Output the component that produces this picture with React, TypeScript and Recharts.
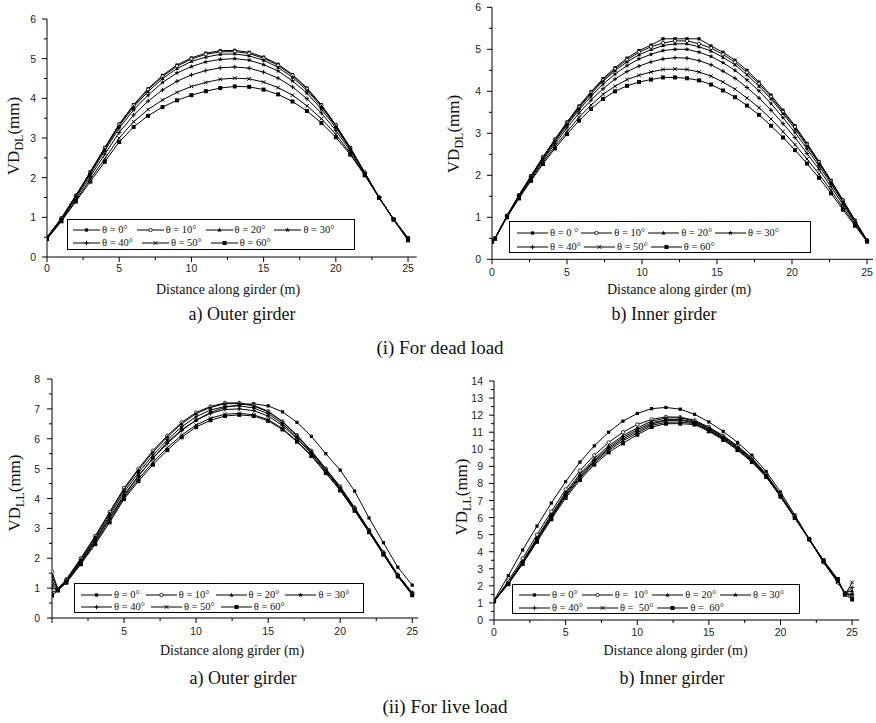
import React from 'react';
import { LineChart, Line, XAxis, YAxis, Legend } from 'recharts';

const serif = '"Liberation Serif", "Times New Roman", serif';
const sans = '"Liberation Sans", Arial, sans-serif';

// ---------- (i) dead load, a) outer girder ----------
const deadOuterX = [0, 1, 2, 3, 4, 5, 6, 7, 8, 9, 10, 11, 12, 13, 14, 15, 16, 17, 18, 19, 20, 21, 22, 23, 24, 25];
const deadOuter0 = [0.5, 0.98, 1.55, 2.15, 2.76, 3.35, 3.84, 4.24, 4.58, 4.84, 5.02, 5.14, 5.2, 5.21, 5.16, 5.04, 4.86, 4.6, 4.26, 3.84, 3.33, 2.76, 2.13, 1.5, 0.95, 0.48];
const deadOuter10 = [0.5, 0.98, 1.55, 2.14, 2.75, 3.34, 3.82, 4.22, 4.55, 4.81, 4.99, 5.11, 5.17, 5.18, 5.13, 5.01, 4.83, 4.58, 4.24, 3.82, 3.32, 2.75, 2.13, 1.5, 0.95, 0.48];
const deadOuter20 = [0.5, 0.97, 1.54, 2.13, 2.72, 3.31, 3.78, 4.17, 4.5, 4.75, 4.93, 5.04, 5.11, 5.12, 5.07, 4.96, 4.78, 4.53, 4.2, 3.79, 3.3, 2.74, 2.12, 1.5, 0.95, 0.47];
const deadOuter30 = [0.49, 0.96, 1.52, 2.09, 2.68, 3.25, 3.71, 4.08, 4.4, 4.64, 4.8, 4.92, 4.98, 5.0, 4.96, 4.85, 4.69, 4.44, 4.13, 3.73, 3.26, 2.72, 2.11, 1.5, 0.95, 0.47];
const deadOuter40 = [0.48, 0.94, 1.48, 2.03, 2.59, 3.14, 3.58, 3.93, 4.21, 4.43, 4.59, 4.7, 4.77, 4.79, 4.76, 4.66, 4.51, 4.29, 3.99, 3.63, 3.19, 2.68, 2.1, 1.5, 0.95, 0.45];
const deadOuter50 = [0.46, 0.92, 1.43, 1.96, 2.48, 3.0, 3.41, 3.72, 3.96, 4.15, 4.3, 4.4, 4.48, 4.51, 4.49, 4.41, 4.27, 4.08, 3.81, 3.49, 3.09, 2.62, 2.08, 1.49, 0.94, 0.43];
const deadOuter60 = [0.45, 0.9, 1.4, 1.9, 2.4, 2.9, 3.28, 3.56, 3.78, 3.95, 4.08, 4.18, 4.26, 4.3, 4.29, 4.22, 4.1, 3.92, 3.68, 3.38, 3.02, 2.58, 2.06, 1.49, 0.94, 0.42];

// ---------- (i) dead load, b) inner girder ----------
const deadInnerX = [0, 0.2, 1, 1.8, 2.6, 3.4, 4.2, 5, 5.8, 6.6, 7.4, 8.2, 9, 9.8, 10.6, 11.4, 12.2, 13, 13.8, 14.6, 15.4, 16.2, 17, 17.8, 18.6, 19.4, 20.2, 21, 21.8, 22.6, 23.4, 24.2, 25];
const deadInner0 = [0.43, 0.5, 1.04, 1.53, 1.99, 2.44, 2.86, 3.27, 3.65, 3.99, 4.3, 4.56, 4.79, 4.97, 5.1, 5.25, 5.25, 5.25, 5.25, 5.08, 4.93, 4.74, 4.5, 4.22, 3.91, 3.55, 3.18, 2.76, 2.33, 1.88, 1.41, 0.93, 0.45];
const deadInner10 = [0.43, 0.5, 1.04, 1.53, 1.98, 2.43, 2.85, 3.25, 3.63, 3.97, 4.27, 4.53, 4.75, 4.93, 5.06, 5.15, 5.2, 5.2, 5.13, 5.03, 4.88, 4.69, 4.45, 4.18, 3.87, 3.51, 3.15, 2.73, 2.31, 1.86, 1.4, 0.92, 0.45];
const deadInner20 = [0.43, 0.5, 1.03, 1.52, 1.97, 2.42, 2.83, 3.23, 3.6, 3.94, 4.24, 4.49, 4.7, 4.87, 4.99, 5.09, 5.13, 5.13, 5.06, 4.96, 4.81, 4.63, 4.39, 4.12, 3.82, 3.47, 3.1, 2.7, 2.28, 1.84, 1.38, 0.91, 0.45];
const deadInner30 = [0.43, 0.5, 1.03, 1.51, 1.96, 2.39, 2.8, 3.19, 3.56, 3.88, 4.17, 4.41, 4.61, 4.77, 4.88, 4.97, 5.0, 5.0, 4.93, 4.83, 4.68, 4.5, 4.27, 4.01, 3.71, 3.37, 3.02, 2.63, 2.22, 1.8, 1.35, 0.89, 0.44];
const deadInner40 = [0.43, 0.5, 1.02, 1.49, 1.93, 2.36, 2.75, 3.13, 3.48, 3.79, 4.06, 4.29, 4.47, 4.6, 4.7, 4.77, 4.8, 4.79, 4.73, 4.63, 4.48, 4.31, 4.09, 3.84, 3.55, 3.23, 2.9, 2.52, 2.14, 1.73, 1.3, 0.87, 0.44];
const deadInner50 = [0.42, 0.49, 1.01, 1.47, 1.9, 2.31, 2.69, 3.04, 3.38, 3.67, 3.93, 4.12, 4.28, 4.38, 4.46, 4.52, 4.53, 4.52, 4.46, 4.36, 4.22, 4.05, 3.84, 3.61, 3.34, 3.04, 2.73, 2.39, 2.03, 1.64, 1.23, 0.83, 0.43];
const deadInner60 = [0.42, 0.49, 1.0, 1.45, 1.87, 2.27, 2.64, 2.98, 3.3, 3.58, 3.82, 4.0, 4.13, 4.22, 4.28, 4.33, 4.33, 4.31, 4.26, 4.16, 4.02, 3.86, 3.66, 3.44, 3.18, 2.9, 2.6, 2.28, 1.94, 1.57, 1.18, 0.8, 0.42];

// ---------- (ii) live load, a) outer girder ----------
const liveOuterX = [0, 0.4, 1, 2, 3, 4, 5, 6, 7, 8, 9, 10, 11, 12, 13, 14, 15, 16, 17, 18, 19, 20, 21, 22, 23, 24, 25];
const liveOuter0 = [1.1, 0.95, 1.22, 1.88, 2.6, 3.35, 4.08, 4.75, 5.35, 5.88, 6.3, 6.62, 6.88, 7.05, 7.14, 7.17, 7.1, 6.9, 6.55, 6.08, 5.5, 4.95, 4.25, 3.35, 2.52, 1.7, 1.1];
const liveOuter10 = [1.55, 0.98, 1.3, 2.0, 2.75, 3.55, 4.35, 5.0, 5.6, 6.1, 6.55, 6.88, 7.08, 7.2, 7.2, 7.12, 6.92, 6.58, 6.12, 5.6, 5.0, 4.4, 3.7, 2.95, 2.2, 1.45, 0.85];
const liveOuter20 = [1.4, 0.96, 1.28, 1.97, 2.71, 3.5, 4.3, 4.95, 5.55, 6.06, 6.5, 6.84, 7.05, 7.17, 7.18, 7.1, 6.9, 6.56, 6.1, 5.58, 4.98, 4.38, 3.68, 2.93, 2.18, 1.44, 0.84];
const liveOuter30 = [1.25, 0.95, 1.25, 1.93, 2.65, 3.43, 4.22, 4.86, 5.45, 5.96, 6.4, 6.74, 6.96, 7.08, 7.1, 7.03, 6.84, 6.5, 6.05, 5.54, 4.95, 4.35, 3.66, 2.92, 2.17, 1.43, 0.82];
const liveOuter40 = [1.0, 0.94, 1.22, 1.88, 2.58, 3.35, 4.13, 4.76, 5.34, 5.84, 6.28, 6.62, 6.85, 6.98, 7.0, 6.94, 6.76, 6.44, 6.0, 5.5, 4.92, 4.32, 3.63, 2.9, 2.15, 1.41, 0.8];
const liveOuter50 = [0.85, 0.93, 1.2, 1.84, 2.52, 3.27, 4.03, 4.65, 5.21, 5.7, 6.12, 6.46, 6.69, 6.82, 6.85, 6.8, 6.64, 6.34, 5.92, 5.44, 4.87, 4.28, 3.6, 2.88, 2.13, 1.4, 0.78];
const liveOuter60 = [0.75, 0.92, 1.18, 1.8, 2.47, 3.2, 3.98, 4.58, 5.13, 5.62, 6.05, 6.39, 6.62, 6.76, 6.8, 6.76, 6.6, 6.31, 5.9, 5.42, 4.85, 4.27, 3.59, 2.87, 2.12, 1.39, 0.76];

// ---------- (ii) live load, b) inner girder ----------
const liveInnerX = [0, 1, 2, 3, 4, 5, 6, 7, 8, 9, 10, 11, 12, 13, 14, 15, 16, 17, 18, 19, 20, 21, 22, 23, 24, 24.5, 25];
const liveInner0 = [1.15, 2.6, 4.1, 5.5, 6.85, 8.1, 9.25, 10.2, 11.0, 11.65, 12.1, 12.38, 12.45, 12.35, 12.05, 11.6, 11.05, 10.4, 9.65, 8.7, 7.5, 6.15, 4.75, 3.4, 2.2, 1.6, 1.3];
const liveInner10 = [1.1, 2.3, 3.6, 5.0, 6.35, 7.65, 8.75, 9.65, 10.4, 11.0, 11.45, 11.75, 11.9, 11.88, 11.7, 11.3, 10.8, 10.2, 9.5, 8.55, 7.35, 6.05, 4.72, 3.38, 2.2, 1.55, 1.45];
const liveInner20 = [1.1, 2.2, 3.45, 4.82, 6.18, 7.48, 8.55, 9.45, 10.2, 10.8, 11.25, 11.65, 11.83, 11.85, 11.65, 11.25, 10.75, 10.15, 9.45, 8.5, 7.3, 6.0, 4.7, 3.4, 2.25, 1.6, 1.7];
const liveInner30 = [1.1, 2.17, 3.4, 4.75, 6.1, 7.4, 8.45, 9.35, 10.1, 10.7, 11.15, 11.55, 11.73, 11.75, 11.6, 11.2, 10.7, 10.1, 9.4, 8.48, 7.3, 6.0, 4.72, 3.42, 2.28, 1.55, 1.5];
const liveInner40 = [1.1, 2.15, 3.36, 4.7, 6.04, 7.33, 8.38, 9.28, 10.02, 10.6, 11.05, 11.48, 11.68, 11.7, 11.55, 11.15, 10.65, 10.05, 9.35, 8.45, 7.28, 6.0, 4.75, 3.45, 2.3, 1.5, 1.9];
const liveInner50 = [1.1, 2.12, 3.32, 4.65, 5.98, 7.25, 8.3, 9.2, 9.93, 10.5, 10.95, 11.4, 11.58, 11.6, 11.5, 11.1, 10.6, 10.0, 9.3, 8.4, 7.25, 5.98, 4.75, 3.48, 2.35, 1.45, 2.2];
const liveInner60 = [1.1, 2.1, 3.28, 4.58, 5.9, 7.15, 8.2, 9.1, 9.82, 10.35, 10.85, 11.3, 11.5, 11.5, 11.45, 11.05, 10.55, 9.95, 9.25, 8.38, 7.22, 5.97, 4.75, 3.5, 2.4, 1.5, 1.2];

// legend texts (spacing as printed in each panel)
const labelsA = ['θ = 0°', 'θ = 10°', 'θ = 20°', 'θ = 30°', 'θ = 40°', 'θ = 50°', 'θ = 60°'];
const labelsB = ['θ = 0 °', 'θ = 10°', 'θ = 20°', 'θ = 30°', 'θ = 40°', 'θ = 50°', 'θ = 60°'];
const labelsD = ['θ = 0°', 'θ =  10°', 'θ = 20°', 'θ = 30°', 'θ = 40°', 'θ =  50°', 'θ =  60°'];

const xTickValues = [0, 2.5, 5, 7.5, 10, 12.5, 15, 17.5, 20, 22.5, 25];

// one small black symbol per series, in legend order
const Marker = ({ cx, cy, kind }: { cx: number; cy: number; kind: number }) => {
  if (cx == null || cy == null) return null;
  switch (kind) {
    case 0:
      return <rect x={cx - 1.6} y={cy - 1.6} width={3.2} height={3.2} fill="#000" />;
    case 1:
      return <circle cx={cx} cy={cy} r={1.7} fill="#fff" stroke="#000" strokeWidth={0.8} />;
    case 2:
      return <path d={`M${cx},${cy - 2.2}L${cx + 2},${cy + 1.4}L${cx - 2},${cy + 1.4}Z`} fill="#000" />;
    case 3: {
      const pts: string[] = [];
      for (let i = 0; i < 10; i++) {
        const r = i % 2 === 0 ? 2.6 : 1.1;
        const a = -Math.PI / 2 + (i * Math.PI) / 5;
        pts.push(`${cx + r * Math.cos(a)},${cy + r * Math.sin(a)}`);
      }
      return <polygon points={pts.join(' ')} fill="#000" />;
    }
    case 4:
      return <path d={`M${cx - 2.2},${cy}H${cx + 2.2}M${cx},${cy - 2.2}V${cy + 2.2}`} stroke="#000" strokeWidth={1} />;
    case 5:
      return <path d={`M${cx - 1.8},${cy - 1.8}L${cx + 1.8},${cy + 1.8}M${cx - 1.8},${cy + 1.8}L${cx + 1.8},${cy - 1.8}`} stroke="#000" strokeWidth={1} />;
    default:
      return <rect x={cx - 2} y={cy - 2} width={4} height={4} fill="#000" />;
  }
};

const XTick = (props: any) => {
  const { x, payload, axisY, labelY, hideZero } = props;
  const v = payload.value;
  const major = v % 5 === 0;
  return (
    <g>
      <line x1={x} x2={x} y1={axisY} y2={axisY + (major ? 5 : 3)} stroke="#000" strokeWidth={1} />
      {major && !(hideZero && v === 0) ? (
        <text x={x} y={labelY} textAnchor="middle" dominantBaseline="central" fontFamily={sans} fontSize={10.5} fill="#222">
          {v}
        </text>
      ) : null}
    </g>
  );
};

const YTick = (props: any) => {
  const { y, payload, axisX, labelX } = props;
  const v = payload.value;
  const major = Number.isInteger(v);
  return (
    <g>
      <line x1={axisX - (major ? 5 : 3)} x2={axisX} y1={y} y2={y} stroke="#000" strokeWidth={1} />
      {major ? (
        <text x={labelX} y={y} textAnchor="end" dominantBaseline="central" fontFamily={sans} fontSize={10.5} fill="#222">
          {v}
        </text>
      ) : null}
    </g>
  );
};

const XTitle = ({ px, py }: any) => (
  <text x={px} y={py} textAnchor="middle" dominantBaseline="central" fontFamily={serif} fontSize={14} fill="#111">
    Distance along girder (m)
  </text>
);

const YTitle = ({ px, py, sub }: any) => (
  <text transform={`translate(${px},${py}) rotate(-90)`} textAnchor="middle" fontFamily={serif} fontSize={17} fill="#111" dy={6}>
    VD<tspan fontSize={12} dy={4}>{sub}</tspan>
    <tspan dy={-4}>(mm)</tspan>
  </text>
);

type LegendCfg = { left: number; top: number; width: number; height: number; rows: [number, number]; pad: number; line: number; gap: number };

const LegendBox = ({ cfg, labels }: { cfg: LegendCfg; labels: string[] }) => (
  <div style={{ width: cfg.width, height: cfg.height, border: '1px solid #000', boxSizing: 'border-box', position: 'relative', background: '#fff' }}>
    {[labels.slice(0, 4), labels.slice(4)].map((row, r) => (
      <div key={r} style={{ position: 'absolute', left: cfg.pad, top: cfg.rows[r] - 7, height: 12, display: 'flex', alignItems: 'center', whiteSpace: 'pre' }}>
        {row.map((lab, j) => {
          const k = r * 4 + j;
          return (
            <span key={k} style={{ display: 'inline-flex', alignItems: 'center', marginRight: cfg.gap }}>
              <svg width={cfg.line} height={8} style={{ display: 'block' }}>
                <line x1={0} x2={cfg.line} y1={4} y2={4} stroke="#000" strokeWidth={1} />
                <Marker cx={cfg.line / 2} cy={4} kind={k} />
              </svg>
              <span style={{ marginLeft: 2, fontFamily: serif, fontSize: 10.5, lineHeight: '12px', color: '#111' }}>{lab}</span>
            </span>
          );
        })}
      </div>
    ))}
  </div>
);

type PanelCfg = {
  box: [number, number, number, number];
  plot: [number, number, number, number];
  xMax: number;
  yMax: number;
  xs: number[];
  series: number[][];
  labels: string[];
  sub: string;
  yTitleAt: [number, number];
  xTitleAt: [number, number];
  xLabelY: number;
  yLabelRight: number;
  hideZeroX?: boolean;
  legend: LegendCfg;
};

const Panel = ({ cfg }: { cfg: PanelCfg }) => {
  const [bl, bt, bw, bh] = cfg.box;
  const [pl, pr, pt, pb] = cfg.plot;
  const data = cfg.xs.map((x, i) => {
    const row: Record<string, number> = { x };
    cfg.series.forEach((s, k) => {
      row['s' + k] = s[i];
    });
    return row;
  });
  const yTicks: number[] = [];
  for (let v = 0; v <= cfg.yMax + 1e-9; v += 0.5) yTicks.push(Math.round(v * 10) / 10);
  const lg = cfg.legend;

  return (
    <div style={{ position: 'absolute', left: bl, top: bt }}>
      <LineChart width={bw} height={bh} data={data} margin={{ top: pt - bt, right: bl + bw - pr, left: 0, bottom: 0 }}>
        <XAxis
          type="number"
          dataKey="x"
          domain={[0, cfg.xMax]}
          ticks={xTickValues}
          interval={0}
          height={bt + bh - pb}
          axisLine={{ stroke: '#000', strokeWidth: 1 }}
          tickLine={false}
          tick={<XTick axisY={pb - bt} labelY={cfg.xLabelY - bt} hideZero={cfg.hideZeroX} />}
          label={<XTitle px={cfg.xTitleAt[0] - bl} py={cfg.xTitleAt[1] - bt} />}
          allowDataOverflow
        />
        <YAxis
          type="number"
          domain={[0, cfg.yMax]}
          ticks={yTicks}
          interval={0}
          width={pl - bl}
          axisLine={{ stroke: '#000', strokeWidth: 1 }}
          tickLine={false}
          tick={<YTick axisX={pl - bl} labelX={cfg.yLabelRight - bl} />}
          label={<YTitle px={cfg.yTitleAt[0] - bl} py={cfg.yTitleAt[1] - bt} sub={cfg.sub} />}
          allowDataOverflow
        />
        <Legend
          layout="horizontal"
          verticalAlign="middle"
          align="center"
          wrapperStyle={{ left: lg.left - bl, top: lg.top - bt, width: lg.width, height: lg.height, margin: 0, padding: 0 }}
          content={() => <LegendBox cfg={lg} labels={cfg.labels} />}
        />
        {cfg.series.map((_, k) => (
          <Line
            key={k}
            type="linear"
            dataKey={'s' + k}
            name={cfg.labels[k]}
            stroke="#000"
            strokeWidth={1}
            isAnimationActive={false}
            activeDot={false}
            dot={(p: any) => <Marker key={`m${k}-${p.index}`} cx={p.cx} cy={p.cy} kind={k} />}
          />
        ))}
      </LineChart>
    </div>
  );
};

const panels: PanelCfg[] = [
  {
    box: [0, 0, 438, 300],
    plot: [47, 416.7, 19, 257],
    xMax: 25.6,
    yMax: 6,
    xs: deadOuterX,
    series: [deadOuter0, deadOuter10, deadOuter20, deadOuter30, deadOuter40, deadOuter50, deadOuter60],
    labels: labelsA,
    sub: 'DL',
    yTitleAt: [13, 136],
    xTitleAt: [228, 289],
    xLabelY: 268,
    yLabelRight: 36,
    legend: { left: 67, top: 219, width: 288, height: 31, rows: [11, 24], pad: 5, line: 27, gap: 9 },
  },
  {
    box: [438, 0, 438, 300],
    plot: [492, 873, 7.3, 259.3],
    xMax: 25.4,
    yMax: 6,
    xs: deadInnerX,
    series: [deadInner0, deadInner10, deadInner20, deadInner30, deadInner40, deadInner50, deadInner60],
    labels: labelsB,
    sub: 'DL',
    yTitleAt: [453, 134],
    xTitleAt: [679, 289],
    xLabelY: 271.5,
    yLabelRight: 481,
    legend: { left: 509, top: 221, width: 302, height: 32, rows: [12, 26], pad: 7, line: 31, gap: 3 },
  },
  {
    box: [0, 340, 438, 320],
    plot: [52, 418, 379, 618],
    xMax: 25.4,
    yMax: 8,
    xs: liveOuterX,
    series: [liveOuter0, liveOuter10, liveOuter20, liveOuter30, liveOuter40, liveOuter50, liveOuter60],
    labels: labelsA,
    sub: 'LL',
    yTitleAt: [14, 493],
    xTitleAt: [232, 650],
    xLabelY: 631,
    yLabelRight: 40,
    hideZeroX: true,
    legend: { left: 74, top: 583, width: 290, height: 30, rows: [11.5, 24], pad: 6, line: 31, gap: 6 },
  },
  {
    box: [438, 340, 438, 320],
    plot: [494, 859.3, 381, 620],
    xMax: 25.5,
    yMax: 14,
    xs: liveInnerX,
    series: [liveInner0, liveInner10, liveInner20, liveInner30, liveInner40, liveInner50, liveInner60],
    labels: labelsD,
    sub: 'LL',
    yTitleAt: [461, 497],
    xTitleAt: [675.5, 650],
    xLabelY: 632,
    yLabelRight: 483,
    legend: { left: 512, top: 584, width: 288, height: 30, rows: [10.5, 23.5], pad: 6, line: 31, gap: 4 },
  },
];

const captions: { text: string; x: number; y: number; size: number }[] = [
  { text: 'a) Outer girder', x: 242, y: 314, size: 18 },
  { text: 'b) Inner girder', x: 664, y: 314, size: 18 },
  { text: '(i) For dead load', x: 440, y: 347, size: 19 },
  { text: 'a) Outer girder', x: 243, y: 678, size: 18 },
  { text: 'b) Inner girder', x: 672, y: 678, size: 18 },
  { text: '(ii) For live load', x: 445, y: 706, size: 19 },
];

export default function App() {
  return (
    <div style={{ position: 'absolute', left: 0, top: 0, width: 876, height: 723, background: '#fff', overflow: 'hidden' }}>
      {panels.map((p, i) => (
        <Panel key={i} cfg={p} />
      ))}
      {captions.map((c, i) => (
        <div
          key={i}
          style={{
            position: 'absolute',
            left: c.x,
            top: c.y,
            transform: 'translate(-50%, -50%)',
            fontFamily: serif,
            fontSize: c.size,
            lineHeight: 1,
            whiteSpace: 'nowrap',
            color: '#111',
          }}
        >
          {c.text}
        </div>
      ))}
    </div>
  );
}
